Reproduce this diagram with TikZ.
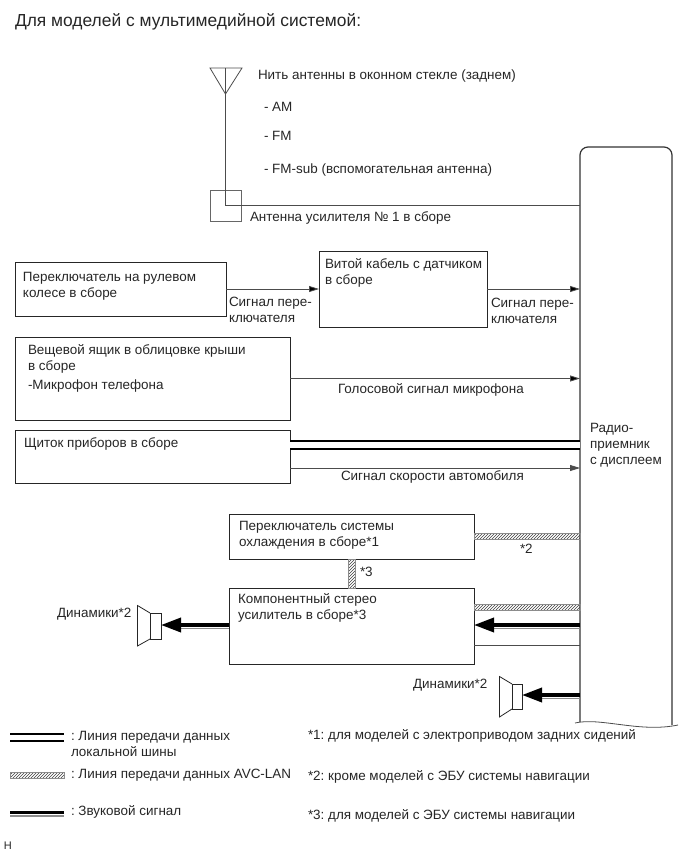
\documentclass[tikz,border=0pt]{standalone}
\usepackage{fontspec}
\setmainfont{Liberation Sans}
\usepackage{tikz}
\usetikzlibrary{calc,arrows.meta,patterns}
\frenchspacing

\begin{document}
\begin{tikzpicture}[x=1pt,y=-1pt,>={Triangle[length=10pt,width=6pt]},line width=0.8pt]
\tikzstyle{every node}=[inner sep=0pt,outer sep=0pt]
\tikzstyle{box}=[draw=black!85,rectangle,anchor=north west]
\tikzstyle{tx}=[anchor=west,align=left,yshift=-1pt,text=black!85,font=\fontsize{13.45}{16}\selectfont]
\tikzstyle{wire}=[draw=black!70]
\tikzstyle{hatch}=[draw=black!45,pattern=north east lines,pattern color=black!75]
\tikzstyle{bus}=[draw=black,double=white,line width=2pt,double distance=5.5pt]
\tikzstyle{soundbar}=[draw=black,line width=3.6pt,
  preaction={draw=black!45,line width=1.6pt,-,transform canvas={yshift=-3.4pt}}]
\tikzstyle{sound}=[draw=black,line width=3.6pt,-{Triangle[length=20pt,width=14pt]},
  preaction={draw=black!45,line width=1.6pt,-,shorten >=12pt,transform canvas={yshift=-3.4pt}}]
\useasboundingbox (0,0) rectangle (690,854);

% receiver
\node (radio) at (626,434.5) [minimum width=92,minimum height=575] {};
\draw[draw=black!80,line width=1.2pt,rounded corners=8pt] (radio.south west)--(radio.north west)--(radio.north east)--($(radio.south east)+(0,3)$);
\draw[draw=black!70] (575,723) .. controls (600,717) and (640,733) .. (678,725);
\node[tx] (radioT) at (590,444) {Радио-\\приемник\\с дисплеем};

% antenna
\coordinate (antTop) at (225.5,68);
\coordinate (antTip) at (225.5,94);
\draw[wire] (210,68)--(242,68)--(antTip)--cycle;
\node[box,draw=black!60,minimum width=31,minimum height=31] (ampl) at (210,190) {};
\coordinate (amplJ) at (225.5,205);
\draw[wire] (antTop)--(amplJ)--(amplJ -| radio.west);

% boxes
\node[box,minimum width=211,minimum height=54] (steer) at (15,262) {};
\node[box,minimum width=168,minimum height=76] (coil) at (319,251) {};
\node[box,minimum width=275,minimum height=83] (glove) at (15,337) {};
\node[box,minimum width=275,minimum height=53] (cluster) at (15,430) {};
\node[box,minimum width=245,minimum height=45] (cool) at (229,514) {};
\node[box,minimum width=245,minimum height=76] (stereo) at (229,588) {};

% speakers
\node[box,minimum width=11,minimum height=26] (spkL) at (150,613) {};
\node[box,minimum width=10,minimum height=25] (spkR) at (512,684) {};
\foreach \spk in {spkL,spkR}
  \draw[draw=black!85] (\spk.north west)--++(-12.5,-7.5)--++(0,40.5)--(\spk.south west);

% connectors
\path[->,wire] (steer) edge (coil)
      (coil) edge (coil -| radio.west)
      (glove) edge (glove -| radio.west);
\coordinate (busA) at (290,445);
\coordinate (speedA) at (290,468);
\coordinate (auxA) at (474,645);
\coordinate (avcA) at (474,533.7);
\coordinate (avcB) at (474,604.5);
\coordinate (avcC) at (348.5,559);
\coordinate (avcD) at (355,588);
\coordinate (sndA) at (580,625);
\coordinate (sndB) at (580,695);
\coordinate (sndC) at (229,625);
\draw[bus] (busA)--(busA -| radio.west);
\draw[->,wire] (speedA)--(speedA -| radio.west);
\draw[wire] (auxA)--(auxA -| radio.west);
\draw[hatch] (avcA) rectangle ($(avcA -| radio.west)+(0,6)$);
\draw[hatch] (avcB) rectangle ($(avcB -| radio.west)+(0,6)$);
\draw[hatch] (avcC) rectangle (avcD);
\draw[sound] (sndA)--(sndA -| stereo.east);
\draw[sound] (sndB)--(sndB -| spkR.east);
\draw[sound] (sndC)--(sndC -| spkL.east);

% texts
\node[tx,font=\fontsize{17.4}{20}\selectfont] (title) at (15,21) {Для моделей с мультимедийной системой:};
\node[tx] (antT) at (258,75) {Нить антенны в оконном стекле (заднем)};
\node[tx] (amT) at (264,106) {- AM};
\node[tx] (fmT) at (264,135) {- FM};
\node[tx] (subT) at (264,169) {- FM-sub (вспомогательная антенна)};
\node[tx] (amplT) at (250,217) {Антенна усилителя № 1 в сборе};
\node[tx] (steerT) at (23,285) {Переключатель на рулевом\\колесе в сборе};
\node[tx] (coilT) at (325,271.5) {Витой кабель с датчиком\\в сборе};
\node[tx] (sigA) at (229,308.5) {Сигнал пере-\\ключателя};
\node[tx] (sigB) at (491,310) {Сигнал пере-\\ключателя};
\node[tx] (gloveT) at (28,367.5) {Вещевой ящик в облицовке крыши\\в сборе\\[3.5pt]-Микрофон телефона};
\node[tx] (voiceT) at (338,389) {Голосовой сигнал микрофона};
\node[tx] (clusterT) at (24,443) {Щиток приборов в сборе};
\node[tx] (speedT) at (341,476) {Сигнал скорости автомобиля};
\node[tx] (coolT) at (239,534) {Переключатель системы\\охлаждения в сборе*1};
\node[tx] (noteB) at (520,548) {*2};
\node[tx] (noteC) at (360,571) {*3};
\node[tx] (stereoT) at (238,607) {Компонентный стерео\\усилитель в сборе*3};
\node[tx] (spkLT) at (57,613) {Динамики*2};
\node[tx] (spkRT) at (413,684.5) {Динамики*2};

% legend
\coordinate (legA) at (10,737.5);
\coordinate (legB) at (10,772.7);
\coordinate (legC) at (10,812.5);
\draw[bus] (legA)--++(54,0);
\draw[hatch] (legB) rectangle ++(54,6);
\draw[soundbar] (legC)--++(54,0);
\node[tx] (legAT) at (71,742.5) {: Линия передачи данных\\локальной шины};
\node[tx] (legBT) at (71,774) {: Линия передачи данных AVC-LAN};
\node[tx] (legCT) at (71,811) {: Звуковой сигнал};
\node[tx] (foot1) at (308,735) {*1: для моделей с электроприводом задних сидений};
\node[tx] (foot2) at (308,776) {*2: кроме моделей с ЭБУ системы навигации};
\node[tx] (foot3) at (308,815) {*3: для моделей с ЭБУ системы навигации};
\node[tx,font=\fontsize{11}{12}\selectfont] (mark) at (4,845) {H};
\end{tikzpicture}
\end{document}
